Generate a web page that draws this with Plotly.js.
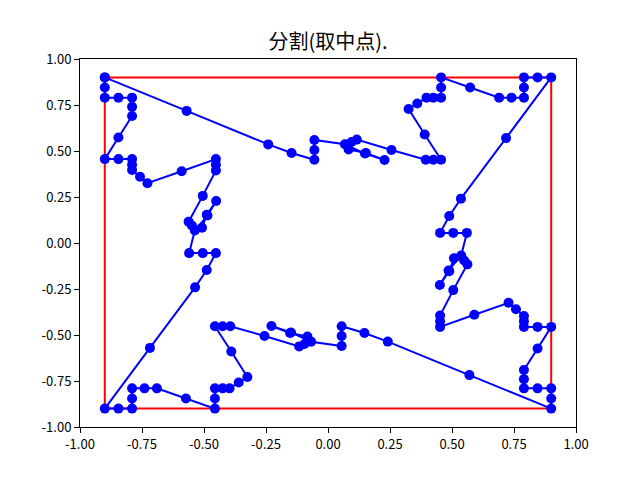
<!DOCTYPE html>
<html>
<head>
<meta charset="utf-8">
<script src="https://cdn.plot.ly/plotly-3.0.1.min.js"></script>
<style>
  html, body { margin: 0; padding: 0; background: #fff; }
  #chart { width: 640px; height: 480px; }
</style>
</head>
<body>
<div id="chart"></div>
<script>
// red frame
const rectX = [-0.9, 0.9, 0.9, -0.9, -0.9];
const rectY = [0.9, 0.9, -0.9, -0.9, 0.9];

// blue path, read piece by piece (left side, bottom, right, top)
const leftX = [-0.900, -0.900, -0.900, -0.845, -0.790, -0.790, -0.790, -0.845, -0.900, -0.845, -0.790,
  -0.790, -0.790, -0.758, -0.728, -0.590, -0.452, -0.452, -0.452, -0.505, -0.562, -0.549,
  -0.508, -0.489, -0.451, -0.486, -0.537, -0.560, -0.505, -0.452, -0.489, -0.536, -0.718];
const leftY = [0.900, 0.845, 0.790, 0.790, 0.790, 0.740, 0.690, 0.573, 0.456, 0.456, 0.456,
  0.425, 0.397, 0.360, 0.325, 0.390, 0.456, 0.425, 0.394, 0.256, 0.116, 0.095,
  0.083, 0.153, 0.228, 0.149, 0.068, -0.055, -0.055, -0.055, -0.147, -0.241, -0.570];

const bottomX = [-0.900, -0.845, -0.790, -0.790, -0.790, -0.740, -0.690, -0.573, -0.456, -0.456, -0.456,
  -0.425, -0.397, -0.360, -0.325, -0.390, -0.456, -0.425, -0.394, -0.256, -0.116, -0.095,
  -0.083, -0.153, -0.228, -0.149, -0.068, 0.055, 0.055, 0.055, 0.147, 0.241, 0.570];
const bottomY = [-0.900, -0.900, -0.900, -0.845, -0.790, -0.790, -0.790, -0.845, -0.900, -0.845, -0.790,
  -0.790, -0.790, -0.758, -0.728, -0.590, -0.452, -0.452, -0.452, -0.505, -0.562, -0.549,
  -0.508, -0.489, -0.451, -0.486, -0.537, -0.560, -0.505, -0.452, -0.489, -0.536, -0.718];

const rightX = [0.900, 0.900, 0.900, 0.845, 0.790, 0.790, 0.790, 0.845, 0.900, 0.845, 0.790,
  0.790, 0.790, 0.758, 0.728, 0.590, 0.452, 0.452, 0.452, 0.505, 0.562, 0.549,
  0.508, 0.489, 0.451, 0.486, 0.537, 0.560, 0.505, 0.452, 0.489, 0.536, 0.718];
const rightY = [-0.900, -0.845, -0.790, -0.790, -0.790, -0.740, -0.690, -0.573, -0.456, -0.456, -0.456,
  -0.425, -0.397, -0.360, -0.325, -0.390, -0.456, -0.425, -0.394, -0.256, -0.116, -0.095,
  -0.083, -0.153, -0.228, -0.149, -0.068, 0.055, 0.055, 0.055, 0.147, 0.241, 0.570];

const topX = [0.900, 0.845, 0.790, 0.790, 0.790, 0.740, 0.690, 0.573, 0.456, 0.456, 0.456,
  0.425, 0.397, 0.360, 0.325, 0.390, 0.456, 0.425, 0.394, 0.256, 0.116, 0.095,
  0.083, 0.153, 0.228, 0.149, 0.068, -0.055, -0.055, -0.055, -0.147, -0.241, -0.570, -0.900];
const topY = [0.900, 0.900, 0.900, 0.845, 0.790, 0.790, 0.790, 0.845, 0.900, 0.845, 0.790,
  0.790, 0.790, 0.758, 0.728, 0.590, 0.452, 0.452, 0.452, 0.505, 0.562, 0.549,
  0.508, 0.489, 0.451, 0.486, 0.537, 0.560, 0.505, 0.452, 0.489, 0.536, 0.718, 0.900];

const tickVals = [-1, -0.75, -0.5, -0.25, 0, 0.25, 0.5, 0.75, 1];
const tickText = ["-1.00", "-0.75", "-0.50", "-0.25", "0.00", "0.25", "0.50", "0.75", "1.00"];

const pathX = leftX.concat(bottomX, rightX, topX);
const pathY = leftY.concat(bottomY, rightY, topY);

const font = "Noto Sans CJK SC, DejaVu Sans, sans-serif";

function axis() {
  return {
    range: [-1, 1],
    tickvals: tickVals,
    ticktext: tickText,
    ticks: "outside",
    ticklen: 5,
    tickwidth: 1,
    tickcolor: "#000",
    showline: true,
    linecolor: "#000",
    linewidth: 1,
    mirror: true,
    showgrid: false,
    zeroline: false,
    tickfont: {family: font, size: 13, color: "#000"}
  };
}

const traces = [
  {
    x: rectX, y: rectY,
    mode: "lines",
    line: {color: "#ff0000", width: 2},
    hoverinfo: "skip"
  },
  {
    x: pathX, y: pathY,
    mode: "lines+markers",
    line: {color: "#0000ff", width: 2},
    marker: {color: "#0000ff", size: 10}
  }
];

Plotly.newPlot("chart", traces, {
  width: 640,
  height: 480,
  showlegend: false,
  paper_bgcolor: "#fff",
  plot_bgcolor: "#fff",
  margin: {l: 80, r: 64, t: 59, b: 53},
  title: {
    text: "分割(取中点).",
    font: {family: font, size: 20, color: "#000"},
    xref: "paper", x: 0.5, xanchor: "center",
    yref: "container", y: 0.912, yanchor: "middle"
  },
  xaxis: axis(),
  yaxis: axis()
}, {staticPlot: true});
</script>
</body>
</html>
